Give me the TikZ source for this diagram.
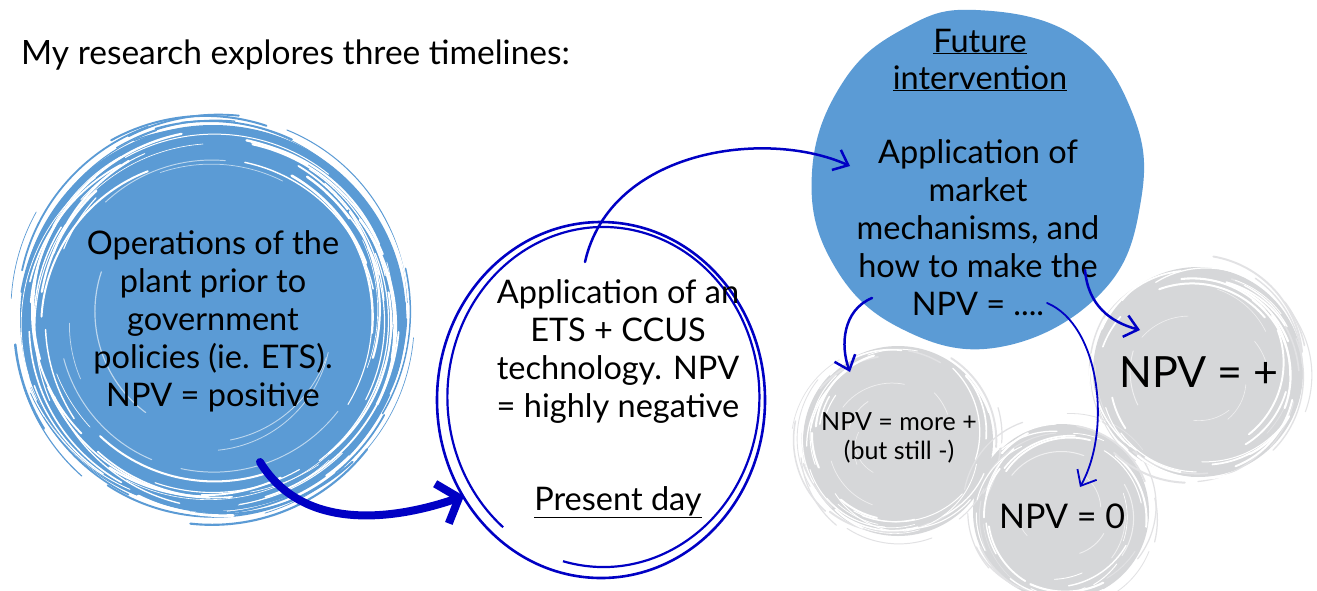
\documentclass[tikz,border=0pt]{standalone}
\usepackage{fontspec}
\setmainfont{Lato}
\usetikzlibrary{arrows.meta,calc}
\definecolor{fillblue}{HTML}{5B9BD5}
\definecolor{ink}{HTML}{0000C4}
\definecolor{pale}{HTML}{D6D7D9}
\definecolor{paleedge}{HTML}{E2E2E4}
\tikzset{
  txt/.style={align=center, inner sep=0pt},
  inkarrow/.style={ink, line width=2.5pt, line cap=round, -{Straight Barb[length=13pt,width=22pt]}},
  bigarrow/.style={ink, line width=8pt, line cap=round, -{Straight Barb[length=18pt,width=42pt]}},
  graydisc/.style={circle, fill=pale, inner sep=0pt},
}
\newcommand{\scribble}[6]{% node, count, rmin, rrange, colour, maxwidth
  \foreach \i in {1,...,#2} {
    \pgfmathsetmacro\sa{360*rnd}
    \pgfmathsetmacro\dsp{20+55*rnd}
    \pgfmathsetmacro\rr{#3+#4*rnd}
    \pgfmathsetmacro\lw{0.6+#6*rnd}
    \pgfmathsetmacro\ox{10*rand}
    \pgfmathsetmacro\oy{10*rand}
    \draw[#5, line width=\lw pt, line cap=round] (#1.center) ++(\ox pt,\oy pt) ++(\sa:\rr pt) arc[start angle=\sa, delta angle=\dsp, radius=\rr pt];
  }
}
\begin{document}
\begin{tikzpicture}[x=1pt,y=-1pt, font=\fontsize{32.5}{38}\selectfont]
\useasboundingbox[fill=white] (0,0) rectangle (1317,590);
\pgfmathsetseed{11}

% title
\node[anchor=west, inner sep=0pt, font=\fontsize{33.5}{40}\selectfont] (title) at (21,55) {My research explores three timelines:};

% circle 1
\node[circle, fill=fillblue, minimum size=386pt, inner sep=0pt] (c1) at (213,318) {};
\scribble{c1}{40}{192}{8}{fillblue}{2.0}
\scribble{c1}{55}{166}{26}{white}{2.2}
\scribble{c1}{8}{120}{40}{white!60!fillblue}{0.6}
\node[txt] (t1) at (213,321) {Operations of the\\plant prior to\\government\\policies (ie. ETS).\\NPV = positive};

% gray discs
\node[graydisc, minimum size=190pt] (g1) at (898,441) {};
\node[graydisc, minimum size=176pt] (g2) at (1061,512) {};
\node[graydisc, minimum size=210pt] (g3) at (1198,372) {};
\foreach \g/\r in {g1/95, g2/88, g3/105} {
  \scribble{\g}{16}{\r-2}{6}{paleedge}{1.4}
  \scribble{\g}{26}{\r-14}{12}{white}{1.6}
  \scribble{\g}{6}{\r-60}{40}{white!60!pale}{0.5}
}
\node[txt, font=\fontsize{25}{29}\selectfont] (tg1) at (899,438) {NPV = more +\\(but still -)};
\node[txt, font=\fontsize{34}{40}\selectfont] (tg2) at (1062,516) {NPV = 0};
\node[txt, font=\fontsize{43}{50}\selectfont] (tg3) at (1199,372) {NPV = +};

% circle 3 (blob)
\node[inner sep=0pt, minimum size=320pt] (c3) at (976,179) {};
\fill[fillblue] plot[smooth cycle, tension=0.7] coordinates {(976,10) (1075,36) (1132,112) (1141,200) (1102,292) (1000,347) (900,328) (832,262) (812,172) (843,82) (905,28)};
\node[txt] (t3a) at (980,60) {\underline{Future}\\[-1pt]\underline{intervention}};
\node[txt] (t3b) at (978,228) {Application of\\market\\mechanisms, and\\how to make the\\NPV = ....};

% circle 2 (hand drawn double loop)
\node[circle, minimum size=340pt, inner sep=0pt] (c2) at (601,400) {};
\draw[ink, line width=2.6pt] (c2.center) ellipse[x radius=164pt, y radius=178pt];
\draw[ink, line width=2.2pt] ($(c2.center)+(6,-3)$) ++(255:170pt) arc[start angle=255, delta angle=335, x radius=156pt, y radius=170pt];
\node[txt] (t2) at (618,351) {Application of an\\ETS + CCUS\\technology. NPV\\= highly negative};
\node[txt] (t2b) at (618,502) {\underline{Present day}};

% arrows
\coordinate (a1s) at (260,462);
\coordinate (a1e) at (464,496);
\draw[bigarrow] (a1s) .. controls (305,535) and (400,518) .. (a1e);

\coordinate (a2s) at (585,262);
\coordinate (a2e) at (850,166);
\draw[inkarrow] (a2s) .. controls (610,150) and (765,128) .. (a2e);

\coordinate (a3s) at (872,298);
\coordinate (a3e) at (850,372);
\draw[inkarrow] (a3s) .. controls (843,310) and (840,345) .. (a3e);

\coordinate (a4s) at (1085,270);
\coordinate (a4e) at (1140,330);
\draw[inkarrow] (a4s) .. controls (1088,305) and (1110,322) .. (a4e);

\coordinate (a5s) at (1047,303);
\coordinate (a5e) at (1080,487);
\draw[inkarrow, line width=1.8pt] (a5s) .. controls (1100,325) and (1112,430) .. (a5e);
\end{tikzpicture}
\end{document}
